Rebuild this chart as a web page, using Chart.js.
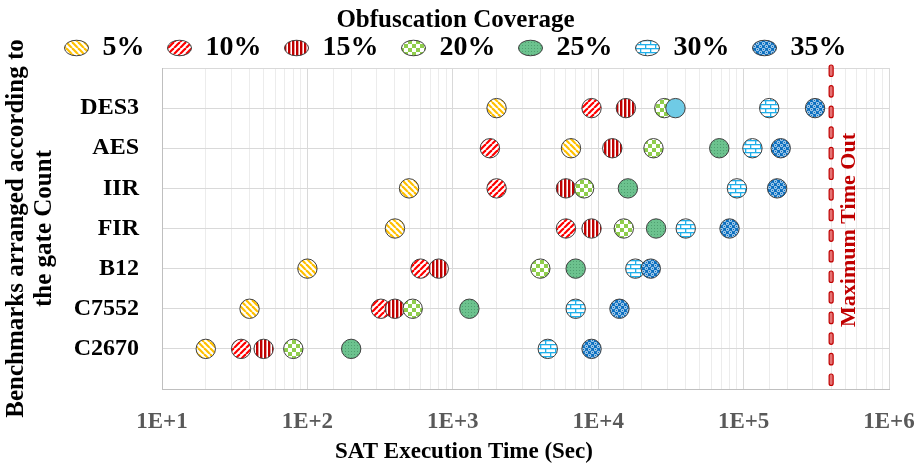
<!DOCTYPE html>
<html>
<head>
<meta charset="utf-8">
<script src="https://cdn.jsdelivr.net/npm/chart.js@4/dist/chart.umd.min.js"></script>
<style>
  html, body { margin: 0; padding: 0; background: #ffffff; }
  #wrap { width: 918px; height: 468px; }
</style>
</head>
<body>
<div id="wrap"><canvas id="c" width="918" height="468"></canvas></div>
<script>
// Benchmarks, bottom row first (y = 1 .. 7)
const benchmarks = ['C2670', 'C7552', 'B12', 'FIR', 'IIR', 'AES', 'DES3'];
const coverageLabels = ['5%', '10%', '15%', '20%', '25%', '30%', '35%'];

// SAT execution time (seconds) per benchmark, one array per coverage level
const cov5  = [20, 40, 100, 400, 500, 6500, 2000];
const cov10 = [35, 320, 600, 6000, 2000, 1800, 9000];
const cov15 = [50, 400, 800, 9000, 6000, 12500, 15500];
const cov20 = [80, 530, 4000, 15000, 8000, 24000, 28500];
const cov25 = [200, 1300, 7000, 25000, 16000, 68000, 34000];
const cov30 = [4500, 7000, 18000, 40000, 90000, 115000, 150000];
const cov35 = [9000, 14000, 23000, 80000, 170000, 180000, 310000];

const timeOutSec = 400000;
const xDecades = [10, 100, 1000, 10000, 100000, 1000000];
const xTickText = ['1E+1', '1E+2', '1E+3', '1E+4', '1E+5', '1E+6'];
const xTitle = 'SAT Execution Time (Sec)';

const FONT = '"Liberation Serif", "Times New Roman", serif';
Chart.defaults.font.family = FONT;

// ---- fill patterns for the markers ----
function makePattern(w, h, paint) {
  const cv = document.createElement('canvas');
  cv.width = w; cv.height = h;
  const g = cv.getContext('2d');
  paint(g, w, h);
  return document.getElementById('c').getContext('2d').createPattern(cv, 'repeat');
}
const patDown = makePattern(6, 6, (g, s) => {
  g.fillStyle = '#ffffff'; g.fillRect(0, 0, s, s);
  g.strokeStyle = '#ffc000'; g.lineWidth = 2.2;
  for (let k = -1; k <= 1; k++) { g.beginPath(); g.moveTo(k * s, 0); g.lineTo(k * s + s, s); g.stroke(); }
});
const patUp = makePattern(6, 6, (g, s) => {
  g.fillStyle = '#ffffff'; g.fillRect(0, 0, s, s);
  g.strokeStyle = '#ff0000'; g.lineWidth = 2.2;
  for (let k = -1; k <= 1; k++) { g.beginPath(); g.moveTo(k * s, s); g.lineTo(k * s + s, 0); g.stroke(); }
});
const patVert = makePattern(4, 4, (g) => {
  g.fillStyle = '#ffffff'; g.fillRect(0, 0, 4, 4);
  g.fillStyle = '#c00000'; g.fillRect(0, 0, 2.4, 4);
});
const patCheck = makePattern(8, 8, (g) => {
  g.fillStyle = '#ffffff'; g.fillRect(0, 0, 8, 8);
  g.fillStyle = '#8fcd4c'; g.fillRect(0, 0, 4, 4); g.fillRect(4, 4, 4, 4);
});
const patDots = makePattern(3, 3, (g) => {
  g.fillStyle = '#6cc28e'; g.fillRect(0, 0, 3, 3);
  g.fillStyle = '#4f9f70'; g.fillRect(0, 0, 1, 1);
});
const patBrick = makePattern(10, 8, (g) => {
  g.fillStyle = '#ffffff'; g.fillRect(0, 0, 10, 8);
  g.fillStyle = '#1fb0ea';
  g.fillRect(0, 0, 10, 1.3); g.fillRect(0, 4, 10, 1.3);
  g.fillRect(0, 0, 1.3, 4); g.fillRect(5, 4, 1.3, 4);
});
const patBubble = makePattern(6, 6, (g) => {
  g.fillStyle = '#0a6fc0'; g.fillRect(0, 0, 6, 6);
  g.strokeStyle = '#ffffff'; g.lineWidth = 0.9;
  [[1.5, 1.5], [4.5, 4.5]].forEach(([cx, cy]) => { g.beginPath(); g.arc(cx, cy, 1.2, 0, Math.PI * 2); g.stroke(); });
});

const seriesValues = [cov5, cov10, cov15, cov20, cov25, cov30, cov35];
const seriesFills = [patDown, patUp, patVert, patCheck, patDots, patBrick, patBubble];

const datasets = seriesValues.map((vals, i) => {
  let fill = seriesFills[i];
  if (i === 4) {
    // the DES3 point of the 25% series is drawn in light blue
    fill = vals.map((v, j) => benchmarks[j] === 'DES3' ? '#6fcbe6' : seriesFills[i]);
  }
  return {
    label: coverageLabels[i],
    data: vals.map((v, j) => ({ x: v, y: j + 1 })),
    pointRadius: 9.7,
    pointHoverRadius: 9.7,
    pointBackgroundColor: fill,
    backgroundColor: seriesFills[i],
    pointBorderColor: '#404040',
    borderColor: '#404040',
    pointBorderWidth: 1,
    order: 7 - i
  };
});

const isDecade = (v) => xDecades.some(d => Math.abs(v - d) < d * 1e-6);

// dashed "Maximum Time Out" marker and the x-axis caption
const timeoutPlugin = {
  id: 'timeoutLine',
  afterDatasetsDraw(chart) {
    const { ctx, chartArea, scales } = chart;
    const x = scales.x.getPixelForValue(timeOutSec);
    ctx.save();
    ctx.lineWidth = 1.2;
    for (let y = chartArea.top - 3; y < chartArea.bottom + 2; y += 20.6) {
      ctx.beginPath();
      ctx.roundRect(x - 2, y, 4, 11.5, 2);
      ctx.fillStyle = '#e57373';
      ctx.fill();
      ctx.strokeStyle = '#c00000';
      ctx.stroke();
    }
    ctx.save();
    ctx.translate(x + 18, (chartArea.top + chartArea.bottom) / 2 + 1.5);
    ctx.rotate(-Math.PI / 2);
    ctx.font = 'bold 22px ' + FONT;
    ctx.fillStyle = '#c00000';
    ctx.textAlign = 'center';
    ctx.textBaseline = 'middle';
    ctx.fillText('Maximum Time Out', 0, 0);
    ctx.restore();

    ctx.font = 'bold 23px ' + FONT;
    ctx.fillStyle = '#000000';
    ctx.textAlign = 'center';
    ctx.textBaseline = 'middle';
    ctx.fillText(xTitle, chart.width / 2 + 5, scales.x.bottom - 16);
    ctx.restore();
  }
};

new Chart(document.getElementById('c'), {
  type: 'scatter',
  data: { datasets },
  plugins: [timeoutPlugin],
  options: {
    responsive: false,
    animation: false,
    events: [],
    layout: { padding: { left: 22, right: 29, top: 8, bottom: 0 } },
    plugins: {
      tooltip: { enabled: false },
      legend: {
        position: 'top',
        maxHeight: 60,
        title: {
          display: true,
          text: 'Obfuscation Coverage',
          color: '#000000',
          font: { size: 25, weight: 'bold', family: FONT },
          padding: { top: 0, bottom: -27 }
        },
        labels: {
          usePointStyle: true,
          pointStyle: 'circle',
          pointStyleWidth: 24,
          boxHeight: 11,
          padding: 23,
          color: '#000000',
          font: { size: 28, weight: 'bold', family: FONT, lineHeight: 1.0 },
          sort: (a, b) => a.datasetIndex - b.datasetIndex
        }
      },
      title: { display: false }
    },
    scales: {
      x: {
        type: 'logarithmic',
        min: 10,
        max: 1000000,
        afterFit: (s) => { s.height = 79; s.paddingLeft = 0; s.paddingRight = 0; },
        border: { color: '#bfbfbf' },
        grid: {
          drawTicks: false,
          color: (c) => (c.tick && isDecade(c.tick.value)) ? '#d9d9d9' : '#ececec'
        },
        ticks: {
          autoSkip: false,
          maxRotation: 0,
          padding: 19,
          color: '#595959',
          font: { size: 23, weight: 'bold', family: FONT },
          callback: (v) => {
            const k = xDecades.findIndex(d => Math.abs(v - d) < d * 1e-6);
            return k >= 0 ? xTickText[k] : '';
          }
        }
      },
      y: {
        type: 'linear',
        min: 0,
        max: 8,
        afterFit: (s) => { s.width = 140; s.paddingTop = 0; s.paddingBottom = 0; },
        border: { color: '#bfbfbf' },
        grid: { drawTicks: false, color: '#d9d9d9' },
        ticks: {
          stepSize: 1,
          padding: 23,
          color: '#000000',
          font: { size: 24, weight: 'bold', family: FONT },
          callback: (v) => benchmarks[v - 1] || ''
        },
        title: {
          display: true,
          text: ['Benchmarks arranged according to', 'the gate Count'],
          color: '#000000',
          font: { size: 25, weight: 'bold', family: FONT, lineHeight: 1.12 },
          padding: { top: -19, bottom: 0 }
        }
      }
    }
  }
});
</script>
</body>
</html>
